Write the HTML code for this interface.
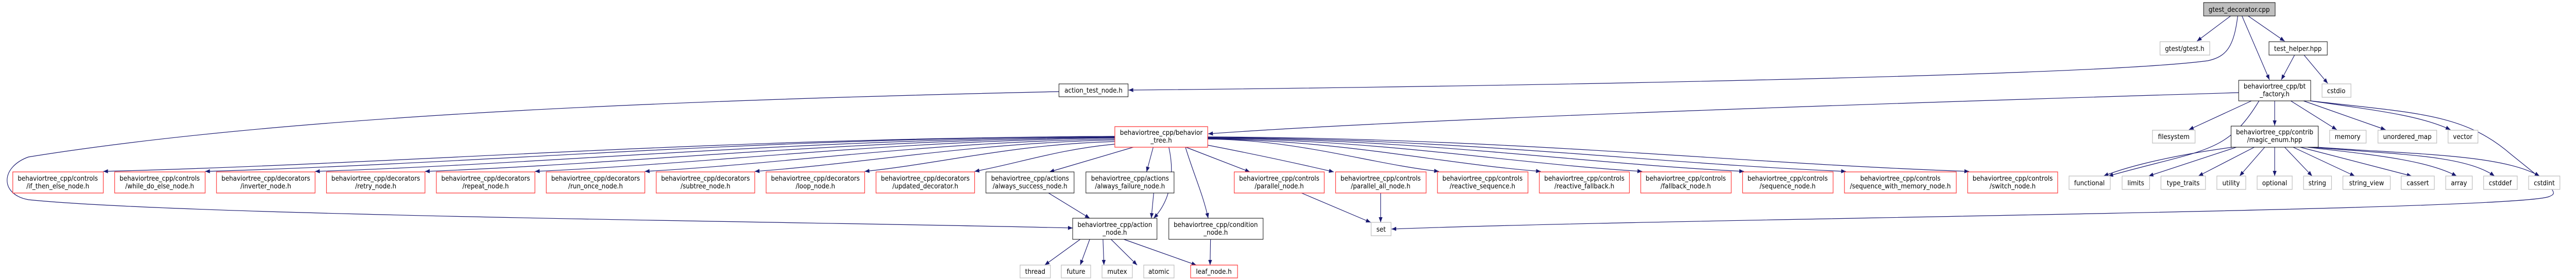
<!DOCTYPE html>
<html><head><meta charset="utf-8"><style>
html,body{margin:0;padding:0;background:#fff;width:100%;height:100%;overflow:hidden}
svg{display:block;position:absolute;left:0;top:0;width:100vw;height:100vh}
text{font-family:"DejaVu Sans","Liberation Sans",sans-serif;font-size:13px;fill:#000;text-anchor:middle}
.b{fill:#fff;stroke:#000;stroke-width:1}
.r{fill:#fff;stroke:#ff3a3a;stroke-width:1.3}
.g{fill:#fff;stroke:#bfbfbf;stroke-width:1.3}
.e{fill:none;stroke:#191970;stroke-width:1.2}
</style></head><body>
<svg viewBox="0 0 5437 544" preserveAspectRatio="none" xmlns="http://www.w3.org/2000/svg">
<defs><marker id="a" markerWidth="10" markerHeight="8" refX="10" refY="4" orient="auto" markerUnits="userSpaceOnUse"><path d="M0,0 L10,4 L0,8 z" fill="#191970"/></marker></defs>
<g class="e" marker-end="url(#a)">
<path d="M4708,31 L4637,80"/>
<path d="M4745,31 L4822,80"/>
<path d="M4732,31 L4790,155"/>
<path d="M4723,31 C4715,90 4700,110 4660,118 C4400,150 3000,170 2382,175"/>
<path d="M4843,107 L4815,155"/>
<path d="M4863,107 L4913,162"/>
<path d="M4725,180 C4000,200 3000,230 2550,260"/>
<path d="M4752,196 L4620,252"/>
<path d="M4801,196 L4801,244"/>
<path d="M4835,196 L4932,252"/>
<path d="M4862,196 L5035,252"/>
<path d="M4877,196 C5020,215 5110,225 5172,252"/>
<path d="M4768,196 C4700,300 4650,290 4450,342"/>
<path d="M4877,196 C5100,220 5200,220 5300,300 C5395,370 5400,375 5380,382 C5300,410 3500,425 2937,445"/>
<path d="M4712,286 C4600,300 4500,320 4440,342"/>
<path d="M4720,286 L4535,342"/>
<path d="M4758,286 L4640,342"/>
<path d="M4780,286 L4727,342"/>
<path d="M4801,286 L4801,342"/>
<path d="M4822,286 L4880,342"/>
<path d="M4840,286 L4970,342"/>
<path d="M4855,286 L5090,342"/>
<path d="M4870,286 C5000,300 5120,310 5185,342"/>
<path d="M4880,286 C5050,300 5200,300 5265,342"/>
<path d="M4890,286 C5100,300 5280,300 5360,342"/>
<path d="M2353,265 C1499,268 859,318 218,333"/>
<path d="M2353,265 C1585,268 1009,318 433,333"/>
<path d="M2353,266 C1678,270 1171,318 665,333"/>
<path d="M2353,267 C1771,272 1334,318 897,333"/>
<path d="M2353,268 C1863,274 1496,318 1129,333"/>
<path d="M2353,270 C1956,276 1659,318 1361,333"/>
<path d="M2353,272 C2049,278 1821,318 1593,333"/>
<path d="M2353,275 C2142,280 1983,318 1825,333"/>
<path d="M2353,280 C2235,290 2146,318 2057,333"/>
<path d="M2392,286 L2215,334"/>
<path d="M2434,286 L2420,334"/>
<path d="M2467,286 C2480,340 2470,390 2435,424"/>
<path d="M2502,286 C2520,340 2540,380 2550,424"/>
<path d="M2503,286 L2638,334"/>
<path d="M2549,282 C2650,300 2750,320 2815,334"/>
<path d="M2549,270 C2744,272 2891,318 3037,333"/>
<path d="M2549,270 C2830,272 3041,318 3252,333"/>
<path d="M2549,269 C2916,271 3191,318 3466,333"/>
<path d="M2549,268 C3002,270 3341,318 3681,333"/>
<path d="M2549,267 C3088,269 3492,318 3896,333"/>
<path d="M2549,266 C3192,268 3674,318 4156,333"/>
<path d="M2235,178 C1400,195 600,225 60,305 C0,325 0,378 60,388 C400,420 1800,432 2264,443"/>
<path d="M2213,375 L2300,424"/>
<path d="M2435,375 L2430,424"/>
<path d="M2280,465 L2205,515"/>
<path d="M2300,465 L2280,515"/>
<path d="M2328,465 L2330,515"/>
<path d="M2345,465 L2400,515"/>
<path d="M2372,465 L2525,515"/>
<path d="M2555,465 L2554,515"/>
<path d="M2747,375 L2893,432"/>
<path d="M2914,375 L2914,432"/>
</g>
<rect x="4651" y="5" width="151" height="26" fill="#bfbfbf" stroke="#000"/><text x="4726" y="23">gtest_decorator.cpp</text>
<rect class="g" x="4559" y="81" width="105" height="26"/><text x="4611" y="99">gtest/gtest.h</text>
<rect class="b" x="4789" y="81" width="123" height="26"/><text x="4850" y="99">test_helper.hpp</text>
<rect class="b" x="4725" y="156" width="152" height="40"/><text x="4801" y="172">behaviortree_cpp/bt</text><text x="4801" y="187">_factory.h</text>
<rect class="g" x="4901" y="163" width="61" height="26"/><text x="4931" y="181">cstdio</text>
<rect class="b" x="2235" y="163" width="146" height="25"/><text x="2308" y="180">action_test_node.h</text>
<rect class="r" x="2353" y="246" width="196" height="40"/><text x="2451" y="262">behaviortree_cpp/behavior</text><text x="2451" y="277">_tree.h</text>
<rect class="b" x="4709" y="245" width="184" height="41"/><text x="4801" y="261">behaviortree_cpp/contrib</text><text x="4801" y="276">/magic_enum.hpp</text>
<rect class="g" x="4543" y="253" width="90" height="25"/><text x="4588" y="270">filesystem</text>
<rect class="g" x="4917" y="253" width="77" height="25"/><text x="4955" y="270">memory</text>
<rect class="g" x="5019" y="253" width="124" height="25"/><text x="5081" y="270">unordered_map</text>
<rect class="g" x="5167" y="253" width="63" height="25"/><text x="5198" y="270">vector</text>

<rect class="r" x="27" y="334" width="191" height="41"/><text x="122" y="351">behaviortree_cpp/controls</text><text x="122" y="366">/if_then_else_node.h</text>
<rect class="r" x="242" y="334" width="191" height="41"/><text x="337" y="351">behaviortree_cpp/controls</text><text x="337" y="366">/while_do_else_node.h</text>
<rect class="r" x="457" y="334" width="208" height="41"/><text x="561" y="351">behaviortree_cpp/decorators</text><text x="561" y="366">/inverter_node.h</text>
<rect class="r" x="689" y="334" width="208" height="41"/><text x="793" y="351">behaviortree_cpp/decorators</text><text x="793" y="366">/retry_node.h</text>
<rect class="r" x="921" y="334" width="208" height="41"/><text x="1025" y="351">behaviortree_cpp/decorators</text><text x="1025" y="366">/repeat_node.h</text>
<rect class="r" x="1153" y="334" width="208" height="41"/><text x="1257" y="351">behaviortree_cpp/decorators</text><text x="1257" y="366">/run_once_node.h</text>
<rect class="r" x="1385" y="334" width="208" height="41"/><text x="1489" y="351">behaviortree_cpp/decorators</text><text x="1489" y="366">/subtree_node.h</text>
<rect class="r" x="1617" y="334" width="208" height="41"/><text x="1721" y="351">behaviortree_cpp/decorators</text><text x="1721" y="366">/loop_node.h</text>
<rect class="r" x="1849" y="334" width="208" height="41"/><text x="1953" y="351">behaviortree_cpp/decorators</text><text x="1953" y="366">/updated_decorator.h</text>
<rect class="b" x="2081" y="334" width="186" height="41"/><text x="2174" y="351">behaviortree_cpp/actions</text><text x="2174" y="366">/always_success_node.h</text>
<rect class="b" x="2292" y="334" width="186" height="41"/><text x="2385" y="351">behaviortree_cpp/actions</text><text x="2385" y="366">/always_failure_node.h</text>
<rect class="r" x="2605" y="334" width="190" height="41"/><text x="2700" y="351">behaviortree_cpp/controls</text><text x="2700" y="366">/parallel_node.h</text>
<rect class="r" x="2819" y="334" width="191" height="41"/><text x="2914" y="351">behaviortree_cpp/controls</text><text x="2914" y="366">/parallel_all_node.h</text>
<rect class="r" x="3034" y="334" width="191" height="41"/><text x="3129" y="351">behaviortree_cpp/controls</text><text x="3129" y="366">/reactive_sequence.h</text>
<rect class="r" x="3249" y="334" width="190" height="41"/><text x="3344" y="351">behaviortree_cpp/controls</text><text x="3344" y="366">/reactive_fallback.h</text>
<rect class="r" x="3463" y="334" width="191" height="41"/><text x="3558" y="351">behaviortree_cpp/controls</text><text x="3558" y="366">/fallback_node.h</text>
<rect class="r" x="3678" y="334" width="191" height="41"/><text x="3773" y="351">behaviortree_cpp/controls</text><text x="3773" y="366">/sequence_node.h</text>
<rect class="r" x="3893" y="334" width="236" height="41"/><text x="4011" y="351">behaviortree_cpp/controls</text><text x="4011" y="366">/sequence_with_memory_node.h</text>
<rect class="r" x="4153" y="334" width="190" height="41"/><text x="4248" y="351">behaviortree_cpp/controls</text><text x="4248" y="366">/switch_node.h</text>

<rect class="g" x="4367" y="342" width="87" height="26"/><text x="4410" y="360">functional</text>
<rect class="g" x="4479" y="342" width="58" height="26"/><text x="4508" y="360">limits</text>
<rect class="g" x="4561" y="342" width="94" height="26"/><text x="4608" y="360">type_traits</text>
<rect class="g" x="4679" y="342" width="61" height="26"/><text x="4709" y="360">utility</text>
<rect class="g" x="4764" y="342" width="74" height="26"/><text x="4801" y="360">optional</text>
<rect class="g" x="4862" y="342" width="59" height="26"/><text x="4891" y="360">string</text>
<rect class="g" x="4945" y="342" width="100" height="26"/><text x="4995" y="360">string_view</text>
<rect class="g" x="5068" y="342" width="70" height="26"/><text x="5103" y="360">cassert</text>
<rect class="g" x="5162" y="342" width="56" height="26"/><text x="5190" y="360">array</text>
<rect class="g" x="5242" y="342" width="71" height="26"/><text x="5277" y="360">cstddef</text>
<rect class="g" x="5337" y="342" width="66" height="26"/><text x="5370" y="360">cstdint</text>

<rect class="b" x="2264" y="424" width="178" height="41"/><text x="2353" y="441">behaviortree_cpp/action</text><text x="2353" y="456">_node.h</text>
<rect class="b" x="2467" y="424" width="199" height="41"/><text x="2566" y="441">behaviortree_cpp/condition</text><text x="2566" y="456">_node.h</text>
<rect class="g" x="2894" y="432" width="42" height="26"/><text x="2915" y="450">set</text>
<rect class="g" x="2153" y="515" width="64" height="25"/><text x="2185" y="532">thread</text>
<rect class="g" x="2240" y="515" width="62" height="25"/><text x="2271" y="532">future</text>
<rect class="g" x="2326" y="515" width="64" height="25"/><text x="2358" y="532">mutex</text>
<rect class="g" x="2414" y="515" width="64" height="25"/><text x="2446" y="532">atomic</text>
<rect class="r" x="2513" y="515" width="99" height="25"/><text x="2562" y="532">leaf_node.h</text>
</svg>
</body></html>
